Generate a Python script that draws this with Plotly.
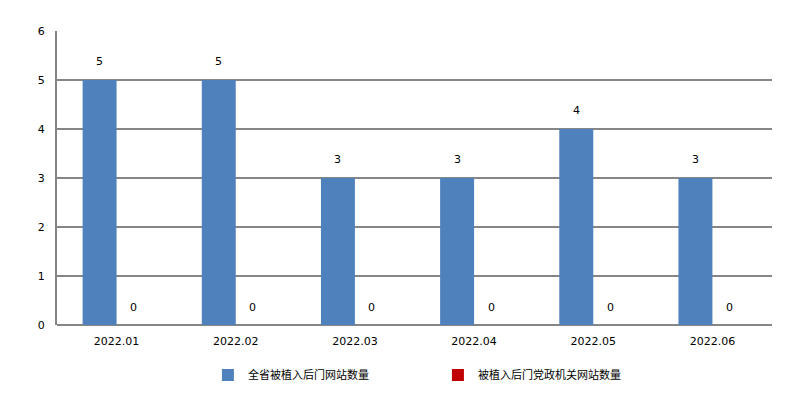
import plotly.graph_objects as go

categories = ["2022.01", "2022.02", "2022.03", "2022.04", "2022.05", "2022.06"]
series1_name = "全省被植入后门网站数量"
series1 = [5, 5, 3, 3, 4, 3]
series2_name = "被植入后门党政机关网站数量"
series2 = [0, 0, 0, 0, 0, 0]

FONT = "DejaVu Sans, Noto Sans CJK SC, sans-serif"
fig = go.Figure()
fig.add_bar(x=categories, y=series1, name=series1_name, marker_color="#4F81BD",
            marker_line_width=0)
fig.add_bar(x=categories, y=series2, name=series2_name, marker_color="#C00000",
            marker_line_width=0)

anns = []
for i, v in enumerate(series1):
    anns.append(dict(x=i, y=v, text=str(v), showarrow=False, xshift=-17, yshift=19,
                     font=dict(size=11, color="#000000", family=FONT)))
for i, v in enumerate(series2):
    anns.append(dict(x=i, y=v, text=str(v), showarrow=False, xshift=17, yshift=18,
                     font=dict(size=11, color="#000000", family=FONT)))

fig.update_layout(
    width=784, height=389,
    margin=dict(l=49, r=20, t=23, b=72),
    paper_bgcolor="white", plot_bgcolor="white",
    barmode="group", bargap=0.43, bargroupgap=0,
    font=dict(family=FONT, size=11, color="#000000"),
    annotations=anns,
    showlegend=True,
    legend=dict(orientation="h", xref="container", yref="container",
                x=0.255, xanchor="left", y=0.0566, yanchor="middle",
                entrywidth=185, entrywidthmode="pixels",
                font=dict(size=11, family=FONT)),
    xaxis=dict(type="category", range=[-0.5, len(categories) - 0.5], showgrid=False,
               showline=False, ticks="", tickfont=dict(size=11), ticklabelstandoff=8),
    yaxis=dict(range=[0, 6], dtick=1, showgrid=True, gridcolor="#868686", gridwidth=2,
               zeroline=True, zerolinecolor="#868686", zerolinewidth=2,
               showline=True, linecolor="#868686", linewidth=2,
               ticks="", tickfont=dict(size=11), ticklabelstandoff=8),
)
fig.write_html("out.html")
